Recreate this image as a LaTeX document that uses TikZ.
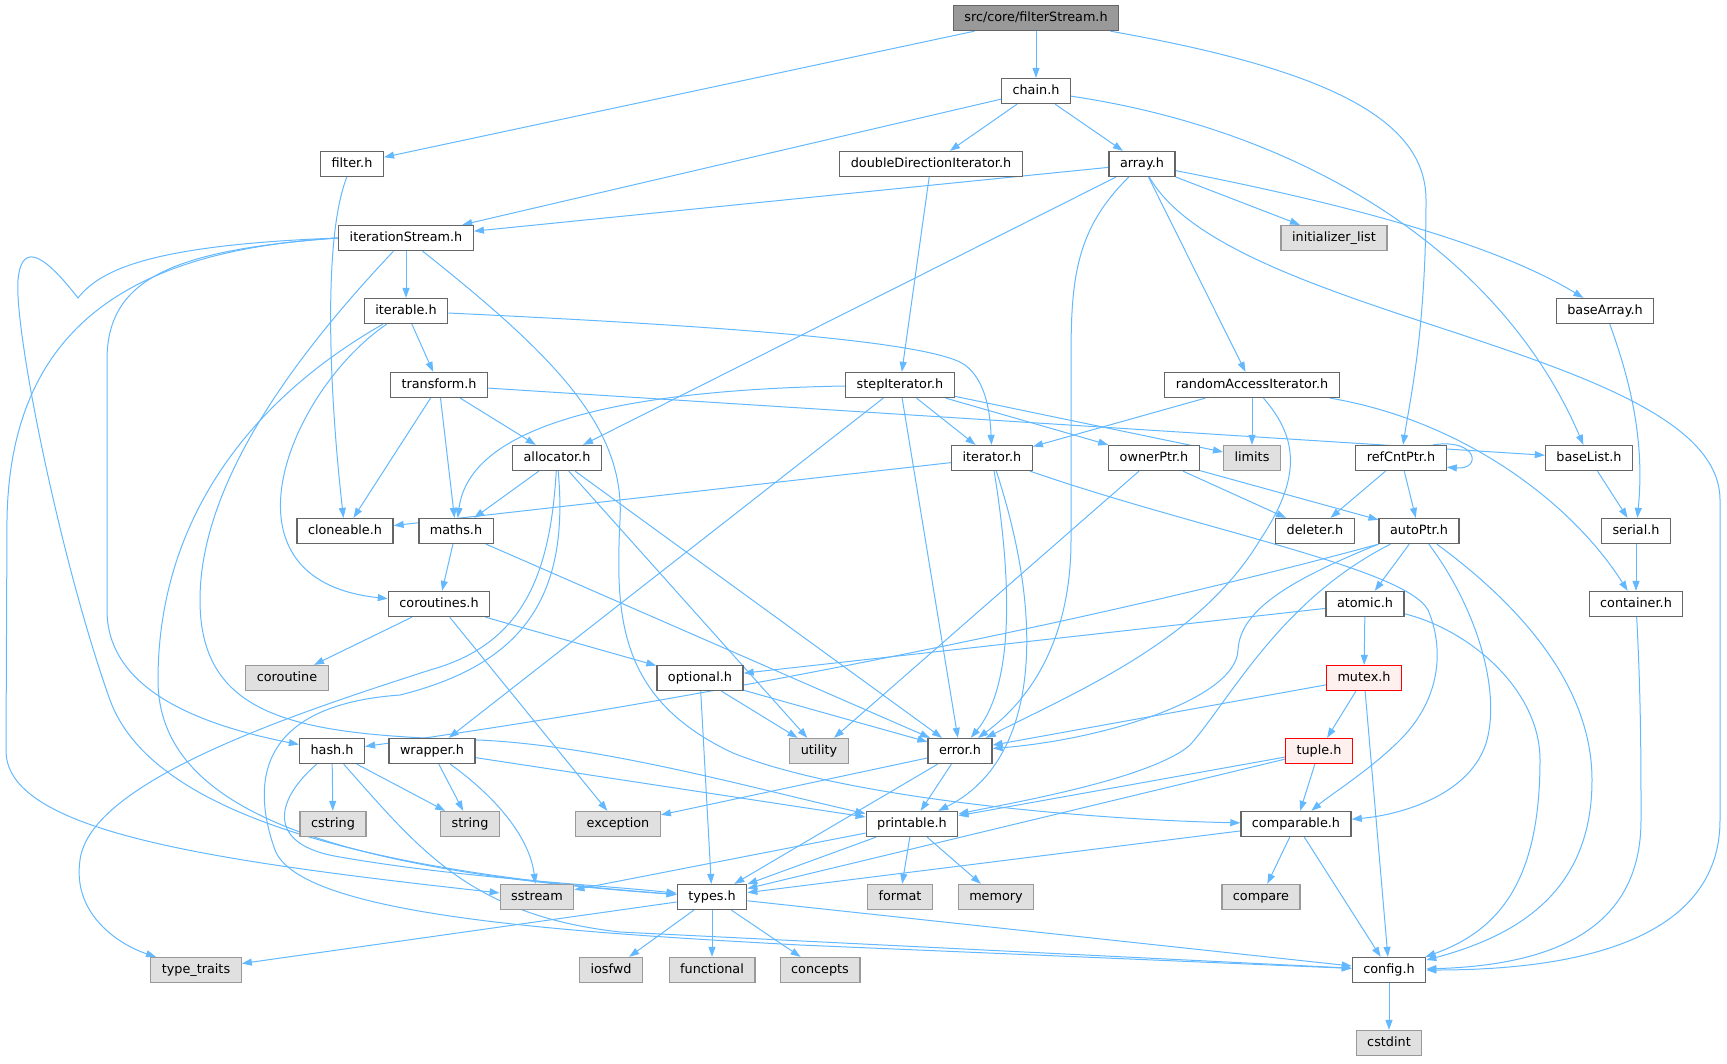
\documentclass[tikz,border=0pt]{standalone}
\usepackage{fontspec}
\setmainfont{DejaVu Sans}
\usetikzlibrary{arrows.meta}
\pgfdeclarelayer{bg}
\pgfsetlayers{bg,main}
\definecolor{edgeblue}{HTML}{63B8FF}
\definecolor{boxgray}{HTML}{666666}
\definecolor{sysgray}{HTML}{999999}
\definecolor{sysfill}{HTML}{E0E0E0}
\definecolor{curfill}{HTML}{999999}
\definecolor{redfill}{HTML}{FFF0F0}

\begin{document}
\begin{tikzpicture}[x=1pt,y=-1pt,
  hfile/.style={draw=boxgray, fill=white, line width=1.3pt, inner xsep=11pt, inner ysep=0pt,
    minimum height=25pt, text height=9.5pt, text depth=2.7pt, font=\fontsize{12.8}{15}\selectfont},
  sysfile/.style={hfile, draw=sysgray, fill=sysfill},
  curfile/.style={hfile, fill=curfill},
  redfile/.style={hfile, draw=red, fill=redfill},
  dep/.style={draw=edgeblue, line width=1pt, -{Triangle[length=10pt,width=7pt]}}]
\useasboundingbox (0,0) rectangle (1727,1063);

\node[curfile] (filterStream) at (1036,18) {src/core/filterStream.h};
\node[hfile] (chain) at (1036,91) {chain.h};
\node[hfile] (filter) at (352,164) {filter.h};
\node[hfile] (doubleDir) at (931,164) {doubleDirectionIterator.h};
\node[hfile] (array) at (1142,164) {array.h};
\node[hfile] (iterStream) at (406,238) {iterationStream.h};
\node[sysfile] (initList) at (1334,238) {initializer\_list};
\node[hfile] (iterable) at (406,311) {iterable.h};
\node[hfile] (baseArray) at (1605,311) {baseArray.h};
\node[hfile] (transform) at (439,385) {transform.h};
\node[hfile] (stepIter) at (900,385) {stepIterator.h};
\node[hfile] (randIter) at (1252,385) {randomAccessIterator.h};
\node[hfile] (allocator) at (557,458) {allocator.h};
\node[hfile] (iterator) at (992,458) {iterator.h};
\node[hfile] (ownerPtr) at (1154,458) {ownerPtr.h};
\node[sysfile] (limits) at (1252,458) {limits};
\node[hfile] (refCntPtr) at (1401,458) {refCntPtr.h};
\node[hfile] (baseList) at (1589,458) {baseList.h};
\node[hfile] (cloneable) at (345,531) {cloneable.h};
\node[hfile] (maths) at (456,531) {maths.h};
\node[hfile] (deleter) at (1315,531) {deleter.h};
\node[hfile] (autoPtr) at (1419,531) {autoPtr.h};
\node[hfile] (serial) at (1636,531) {serial.h};
\node[hfile] (coroutines) at (439,604) {coroutines.h};
\node[hfile] (atomic) at (1365,604) {atomic.h};
\node[hfile] (container) at (1636,604) {container.h};
\node[sysfile] (coroutine) at (287,678) {coroutine};
\node[hfile] (optional) at (700,678) {optional.h};
\node[redfile] (mutex) at (1364,678) {mutex.h};
\node[hfile] (hash) at (332,751) {hash.h};
\node[hfile] (wrapper) at (432,751) {wrapper.h};
\node[sysfile] (utility) at (819,751) {utility};
\node[hfile] (error) at (960,751) {error.h};
\node[redfile] (tuple) at (1319,751) {tuple.h};
\node[sysfile] (cstring) at (333,824) {cstring};
\node[sysfile] (string) at (470,824) {string};
\node[sysfile] (exception) at (618,824) {exception};
\node[hfile] (printable) at (912,824) {printable.h};
\node[hfile] (comparable) at (1296,824) {comparable.h};
\node[sysfile] (sstream) at (537,897) {sstream};
\node[hfile] (types) at (712,897) {types.h};
\node[sysfile] (format) at (900,897) {format};
\node[sysfile] (memory) at (996,897) {memory};
\node[sysfile] (compare) at (1261,897) {compare};
\node[sysfile] (typeTraits) at (196,970) {type\_traits};
\node[sysfile] (iosfwd) at (611,970) {iosfwd};
\node[sysfile] (functional) at (712,970) {functional};
\node[sysfile] (concepts) at (820,970) {concepts};
\node[hfile] (config) at (1389,970) {config.h};
\node[sysfile] (cstdint) at (1389,1043) {cstdint};

\begin{pgfonlayer}{bg}
\draw[dep] (filterStream) -- (filter);
\draw[dep] (filterStream) -- (chain);
\draw[dep] (filterStream) .. controls (1330,70) and (1426,120) .. (1426,200) .. controls (1426,330) and (1410,400) .. (refCntPtr);
\draw[dep] (chain) -- (iterStream);
\draw[dep] (chain) -- (doubleDir);
\draw[dep] (chain) -- (array);
\draw[dep] (chain) .. controls (1300,130) and (1500,250) .. (baseList);
\draw[dep] (filter) .. controls (322,240) and (330,400) .. (cloneable);
\draw[dep] (doubleDir) -- (stepIter);
\draw[dep] (array) -- (iterStream);
\draw[dep] (array) -- (initList);
\draw[dep] (array) .. controls (1300,195) and (1480,235) .. (baseArray);
\draw[dep] (array) -- (allocator);
\draw[dep] (array) .. controls (1075,230) and (1071,280) .. (1071,360) -- (1071,540) .. controls (1071,640) and (1030,700) .. (error);
\draw[dep] (array) -- (randIter);
\draw[dep] (array) .. controls (1230,320) and (1720,350) .. (1720,500) -- (1720,820) .. controls (1720,930) and (1600,970) .. (config);
\draw[dep] (iterStream) -- (iterable);
\draw[dep] (iterStream.west) .. controls (140,250) and (10,320) .. (7,520) -- (6,750) .. controls (5,830) and (200,860) .. (sstream);
\draw[dep] (iterStream.west) .. controls (150,245) and (100,270) .. (78,298) .. controls (50,262) and (22,236) .. (18,280) .. controls (14,330) and (60,560) .. (110,700) .. controls (150,810) and (350,870) .. (types);
\draw[dep] (iterStream.west) .. controls (170,250) and (107,280) .. (107,360) -- (107,610) .. controls (107,690) and (200,725) .. (hash);
\draw[dep] (iterStream) .. controls (300,350) and (200,480) .. (200,600) .. controls (200,720) and (300,735) .. (478,740) .. controls (600,745) and (760,790) .. (printable);
\draw[dep] (iterStream) .. controls (560,360) and (625,430) .. (620,520) .. controls (615,620) and (620,700) .. (733,753) .. controls (850,800) and (1100,820) .. (comparable);
\draw[dep] (iterable) -- (transform);
\draw[dep] (iterable) .. controls (700,325) and (930,340) .. (965,365) .. controls (985,380) and (990,410) .. (iterator);
\draw[dep] (iterable) .. controls (290,390) and (210,580) .. (coroutines);
\draw[dep] (iterable) .. controls (250,400) and (158,520) .. (158,680) .. controls (158,810) and (330,870) .. (types);
\draw[dep] (baseArray) .. controls (1630,380) and (1645,440) .. (serial);
\draw[dep] (transform) -- (cloneable);
\draw[dep] (transform) -- (maths);
\draw[dep] (transform) -- (allocator);
\draw[dep] (transform) -- (baseList);
\draw[dep] (stepIter) .. controls (620,390) and (470,425) .. (maths);
\draw[dep] (stepIter) -- (wrapper);
\draw[dep] (stepIter) -- (error);
\draw[dep] (stepIter) -- (iterator);
\draw[dep] (stepIter) -- (ownerPtr);
\draw[dep] (stepIter) -- (limits);
\draw[dep] (randIter) -- (iterator);
\draw[dep] (randIter) -- (limits);
\draw[dep] (randIter) .. controls (1300,440) and (1300,480) .. (1260,540) .. controls (1200,640) and (1080,690) .. (error);
\draw[dep] (randIter) .. controls (1460,420) and (1570,500) .. (container);
\draw[dep] (allocator) -- (maths);
\draw[dep] (allocator) .. controls (550,580) and (520,645) .. (430,670) .. controls (300,712) and (90,780) .. (80,860) .. controls (72,915) and (120,945) .. (typeTraits);
\draw[dep] (allocator) .. controls (570,600) and (520,665) .. (400,695) .. controls (260,705) and (250,780) .. (275,850) .. controls (300,915) and (560,932) .. (800,945) -- (config);
\draw[dep] (allocator) -- (utility);
\draw[dep] (allocator) -- (error);
\draw[dep] (iterator) -- (cloneable);
\draw[dep] (iterator) .. controls (1015,600) and (1010,690) .. (error);
\draw[dep] (iterator) .. controls (1045,620) and (1040,760) .. (printable);
\draw[dep] (iterator) .. controls (1200,530) and (1405,568) .. (1428,610) .. controls (1445,650) and (1440,700) .. (1400,740) .. controls (1370,770) and (1330,795) .. (comparable);
\draw[dep] (ownerPtr) -- (utility);
\draw[dep] (ownerPtr) -- (deleter);
\draw[dep] (ownerPtr) -- (autoPtr);
\draw[dep] ([xshift=-14pt]refCntPtr.north east) .. controls (1478,438) and (1482,470) .. ([yshift=4pt]refCntPtr.south east);
\draw[dep] (refCntPtr) -- (deleter);
\draw[dep] (refCntPtr) -- (autoPtr);
\draw[dep] (baseList) -- (serial);
\draw[dep] (maths) -- (coroutines);
\draw[dep] (maths) -- (error);
\draw[dep] (autoPtr.south west) .. controls (1100,620) and (700,700) .. (hash);
\draw[dep] (autoPtr.south west) .. controls (1290,580) and (1240,610) .. (1238,650) .. controls (1236,700) and (1100,740) .. (error);
\draw[dep] ([xshift=12pt]autoPtr.south west) .. controls (1280,600) and (1230,700) .. (1190,745) .. controls (1150,780) and (1000,805) .. (printable);
\draw[dep] (autoPtr) -- (atomic);
\draw[dep] (autoPtr) .. controls (1478,610) and (1500,690) .. (1487,740) .. controls (1472,795) and (1400,815) .. (comparable);
\draw[dep] (autoPtr) .. controls (1540,620) and (1592,700) .. (1592,780) .. controls (1592,890) and (1520,935) .. (config);
\draw[dep] (serial) -- (container);
\draw[dep] (coroutines) -- (coroutine);
\draw[dep] (coroutines) -- (optional);
\draw[dep] (coroutines) -- (exception);
\draw[dep] (atomic) -- (optional);
\draw[dep] (atomic) -- (mutex);
\draw[dep] (atomic) .. controls (1470,630) and (1540,690) .. (1540,760) .. controls (1540,880) and (1500,930) .. (config);
\draw[dep] (container) .. controls (1641,700) and (1641,760) .. (1641,820) .. controls (1641,925) and (1560,965) .. (config);
\draw[dep] (optional) -- (utility);
\draw[dep] (optional) -- (error);
\draw[dep] (optional) -- (types);
\draw[dep] (mutex) -- (error);
\draw[dep] (mutex) -- (tuple);
\draw[dep] (mutex) -- (config);
\draw[dep] (hash) -- (cstring);
\draw[dep] (hash) -- (string);
\draw[dep] (hash) .. controls (275,800) and (265,845) .. (340,857) .. controls (460,878) and (600,885) .. (types);
\draw[dep] (hash) .. controls (420,850) and (470,915) .. (620,932) -- (config);
\draw[dep] (wrapper) -- (string);
\draw[dep] (wrapper) .. controls (500,800) and (530,840) .. (sstream);
\draw[dep] (wrapper) -- (printable);
\draw[dep] (error) -- (exception);
\draw[dep] (error) -- (printable);
\draw[dep] (error) -- (types);
\draw[dep] (tuple) -- (comparable);
\draw[dep] (tuple) -- (printable);
\draw[dep] (tuple) -- (types);
\draw[dep] (printable) -- (sstream);
\draw[dep] (printable) -- (types);
\draw[dep] (printable) -- (format);
\draw[dep] (printable) -- (memory);
\draw[dep] (comparable) -- (compare);
\draw[dep] (comparable) -- (config);
\draw[dep] (comparable) -- (types);
\draw[dep] (types) -- (typeTraits);
\draw[dep] (types) -- (iosfwd);
\draw[dep] (types) -- (functional);
\draw[dep] (types) -- (concepts);
\draw[dep] (types) -- (config);
\draw[dep] (config) -- (cstdint);
\end{pgfonlayer}
\end{tikzpicture}
\end{document}
